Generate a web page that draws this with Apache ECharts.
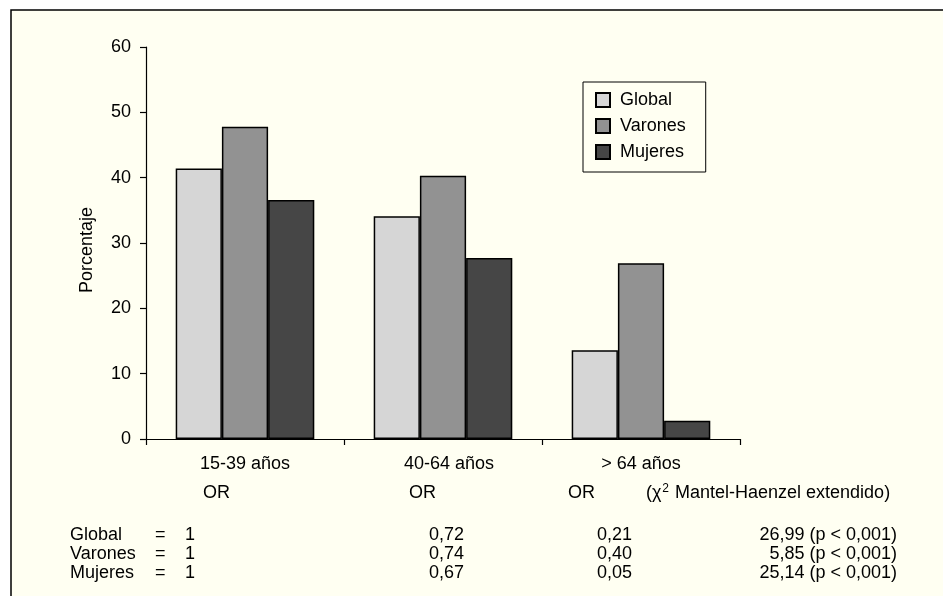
<!DOCTYPE html>
<html>
<head>
<meta charset="utf-8">
<script src="https://cdn.jsdelivr.net/npm/echarts@6/dist/echarts.min.js"></script>
<style>
html,body{margin:0;padding:0;background:#ffffff;}
#chart{width:943px;height:596px;}
</style>
</head>
<body>
<div id="chart"></div>
<script>
// ---- data ----
const categories = ['15-39 años', '40-64 años', '> 64 años'];
const seriesNames = ['Global', 'Varones', 'Mujeres'];
const globalValues = [41.4, 34.1, 13.6];
const varonesValues = [47.8, 40.3, 26.9];
const mujeresValues = [36.6, 27.7, 2.8];
const yTicks = [0, 10, 20, 30, 40, 50, 60];
const yAxisTitle = 'Porcentaje';
const orHeader = 'OR';
const chiHeader = 'Mantel-Haenzel extendido';
const tableRowNames = ['Global', 'Varones', 'Mujeres'];
const orFirst = ['1', '1', '1'];
const orSecond = ['0,72', '0,74', '0,67'];
const orThird = ['0,21', '0,40', '0,05'];
const chiValues = ['26,99', '5,85', '25,14'];
const pText = '(p < 0,001)';

// ---- styling ----
const FONT = '"Liberation Sans", Arial, Helvetica, sans-serif';
const FS = 18;
const colors = ['#d6d6d6', '#929292', '#464646'];
const bg = '#fffff2';

const chart = echarts.init(document.getElementById('chart'), null, {renderer: 'canvas'});

const dataSets = [globalValues, varonesValues, mujeresValues];
const series = seriesNames.map((n, i) => ({
  name: n,
  type: 'bar',
  data: dataSets[i],
  barGap: '0%',
  barCategoryGap: '30%',
  itemStyle: {color: colors[i], borderColor: '#000', borderWidth: 1.5},
  emphasis: {disabled: true}
}));

// per-label horizontal nudges (padding left, padding right)
const labelPad = [[0, 0], [12, 0], [0, 0]];
const rich = {};
labelPad.forEach((p, i) => {
  rich['c' + i] = {fontFamily: FONT, fontSize: FS, color: '#000', padding: [0, p[1], 0, p[0]]};
});

// frame + table texts
const graphics = [];
graphics.push({
  type: 'rect', silent: true, z: -10,
  shape: {x: 11, y: 10, width: 1000, height: 700},
  style: {fill: bg, stroke: '#000', lineWidth: 1.5}
});
function txt(x, y, text, align, extra) {
  graphics.push({
    type: 'text', x: x, y: y, z: 10,
    style: Object.assign({text: text, fontFamily: FONT, fontSize: FS, fill: '#000',
      textAlign: align || 'left', textVerticalAlign: 'middle'}, extra || {})
  });
}
const orRowY = 493;
txt(203, orRowY, orHeader);
txt(409, orRowY, orHeader);
txt(568, orRowY, orHeader);
graphics.push({
  type: 'text', x: 768, y: orRowY, z: 10,
  style: {
    text: '(χ{sup|2} ' + chiHeader + ')',
    fontFamily: FONT, fontSize: FS, fill: '#000', textAlign: 'center', textVerticalAlign: 'middle',
    rich: {
      sup: {fontFamily: FONT, fontSize: 12, fill: '#000', verticalAlign: 'top', padding: [0, 1, 9, 1]}
    }
  }
});
const rowY = [535, 554, 573];
tableRowNames.forEach((n, i) => {
  const y = rowY[i];
  txt(70, y, n);
  txt(155, y, '=');
  txt(185, y, orFirst[i]);
  txt(464, y, orSecond[i], 'right');
  txt(632, y, orThird[i], 'right');
  txt(897, y, chiValues[i] + ' ' + pText, 'right');
});

const option = {
  animation: false,
  backgroundColor: 'transparent',
  grid: {left: 146, right: 203, top: 47, bottom: 157, containLabel: false},
  legend: {
    orient: 'vertical',
    left: 583, top: 82,
    data: seriesNames,
    icon: 'rect',
    itemWidth: 14, itemHeight: 14, itemGap: 8,
    padding: [9, 20, 11, 12],
    borderColor: '#000', borderWidth: 1,
    backgroundColor: bg,
    selectedMode: false,
    textStyle: {fontFamily: FONT, fontSize: FS, color: '#000', padding: [0, 0, 0, 5]}
  },
  xAxis: {
    type: 'category',
    data: categories,
    axisLine: {lineStyle: {color: '#000', width: 1.2}},
    axisTick: {show: true, length: 6, lineStyle: {color: '#000', width: 1.2}},
    axisLabel: {
      margin: 16,
      formatter: (v, i) => '{c' + i + '|' + v + '}',
      rich: rich
    },
    splitLine: {show: false}
  },
  yAxis: {
    type: 'value',
    min: yTicks[0], max: yTicks[yTicks.length - 1], interval: yTicks[1] - yTicks[0],
    name: yAxisTitle,
    nameLocation: 'middle',
    nameGap: 50,
    nameRotate: 90,
    nameTextStyle: {fontFamily: FONT, fontSize: FS, color: '#000', padding: [0, 14, 0, 0]},
    axisLine: {show: true, lineStyle: {color: '#000', width: 1.2}},
    axisTick: {show: true, length: 6, lineStyle: {color: '#000', width: 1.2}},
    axisLabel: {margin: 15, fontFamily: FONT, fontSize: FS, color: '#000'},
    splitLine: {show: false}
  },
  series: series,
  graphic: graphics
};
chart.setOption(option);
</script>
</body>
</html>
